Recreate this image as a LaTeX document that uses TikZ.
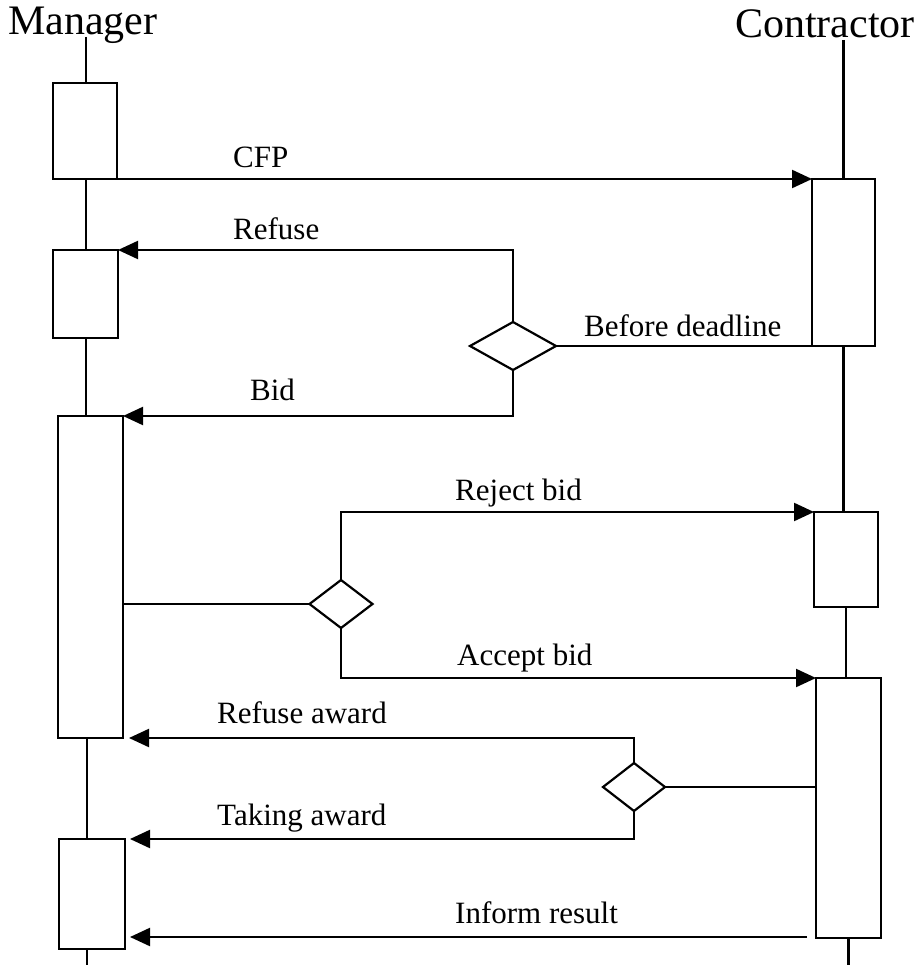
\documentclass[tikz,border=0pt]{standalone}
\usepackage{fontspec}
\setmainfont{Liberation Serif}
\usetikzlibrary{arrows.meta,shapes.geometric,calc}

\tikzset{
  line/.style={line width=2.2pt, line join=miter},
  actbox/.style={draw, line width=2.2pt, rectangle, inner sep=0pt, outer sep=0pt, anchor=north west},
  choice/.style={draw, line width=2.2pt, diamond, inner sep=0pt, outer sep=0pt},
  msg/.style={line, -{Triangle[length=20pt,width=18pt]}},
  lbl/.style={anchor=base west, inner sep=0pt, font=\fontsize{31}{36}\selectfont},
  role/.style={anchor=base west, inner sep=0pt, font=\fontsize{42}{48}\selectfont},
}

\begin{document}
\begin{tikzpicture}[x=1pt, y=-1pt]
  \useasboundingbox[fill=white] (0,0) rectangle (922,965);

  % participants
  \node[role] (manager) at (8,35) {Manager};
  \node[role] (contractor) at (735,38) {Contractor};
  \coordinate (mtop) at (86,37);
  \coordinate (ctop) at (843.5,40);

  % activation boxes of the manager
  \node[actbox, minimum width=64pt, minimum height=96pt]  (mb1) at (53,83) {};
  \node[actbox, minimum width=65pt, minimum height=88pt]  (mb2) at (53,250) {};
  \node[actbox, minimum width=65pt, minimum height=322pt] (mb3) at (58,416) {};
  \node[actbox, minimum width=66pt, minimum height=110pt] (mb4) at (59,839) {};

  % activation boxes of the contractor
  \node[actbox, minimum width=63pt, minimum height=167pt] (cb1) at (812,179) {};
  \node[actbox, minimum width=64pt, minimum height=95pt]  (cb2) at (814,512) {};
  \node[actbox, minimum width=65pt, minimum height=260pt] (cb3) at (816,678) {};

  % decision points
  \node[choice, minimum width=86pt, minimum height=48pt] (d1) at (513,346) {};
  \node[choice, minimum width=63pt, minimum height=48pt] (d2) at (341,604) {};
  \node[choice, minimum width=62pt, minimum height=48pt] (d3) at (634,787) {};

  % lifelines
  \draw[line] (mtop) -- (mtop |- mb1.north);
  \draw[line] (mtop |- mb1.south) -- (mtop |- mb2.north);
  \draw[line] (mtop |- mb2.south) -- (mtop |- mb3.north);
  \draw[line] ($(mtop |- mb3.south)+(1,0)$) -- ($(mtop |- mb4.north)+(1,0)$);
  \coordinate (mend) at ($(mtop |- mb4.south)+(1,16)$);
  \draw[line] ($(mtop |- mb4.south)+(1,0)$) -- (mend);

  \draw[line] (ctop) -- (cb1.north);
  \draw[line] (cb1.south) -- (cb1.south |- cb2.north);
  \draw[line] (cb2.south) -- (cb2.south |- cb3.north);
  \coordinate (cend) at ($(cb3.south)+(0,27)$);
  \draw[line] (cb3.south) -- (cend);

  % messages
  \draw[msg] (mb1.south east) -- (cb1.north west);
  \draw[msg] (d1.north) |- (mb2.north east);
  \draw[line] (cb1.south west) -- (d1.east);
  \draw[msg] (d1.south) |- (mb3.north east);

  \draw[line] (d2.west) -- (d2.west -| mb3.east);
  \draw[msg] (d2.north) |- (cb2.north west);
  \draw[msg] (d2.south) |- (cb3.north west);

  \draw[line] (d3.east) -- (d3.east -| cb3.west);
  \draw[msg, shorten >=6pt] (d3.north) |- (mb3.south east);
  \draw[msg, shorten >=5pt] (d3.south) |- (mb4.north east);
  \coordinate (informstart) at (807,937);
  \draw[msg, shorten >=5pt] (informstart) -- (informstart -| mb4.east);

  % message labels
  \node[lbl] (tcfp)     at (233,168) {CFP};
  \node[lbl] (trefuse)  at (233,240) {Refuse};
  \node[lbl] (tdead)    at (584,336) {Before deadline};
  \node[lbl] (tbid)     at (250,400) {Bid};
  \node[lbl] (treject)  at (455,500) {Reject bid};
  \node[lbl] (taccept)  at (457,665) {Accept bid};
  \node[lbl] (trefaw)   at (217,723) {Refuse award};
  \node[lbl] (ttake)    at (217,825) {Taking award};
  \node[lbl] (tinform)  at (455,923) {Inform result};
\end{tikzpicture}
\end{document}
